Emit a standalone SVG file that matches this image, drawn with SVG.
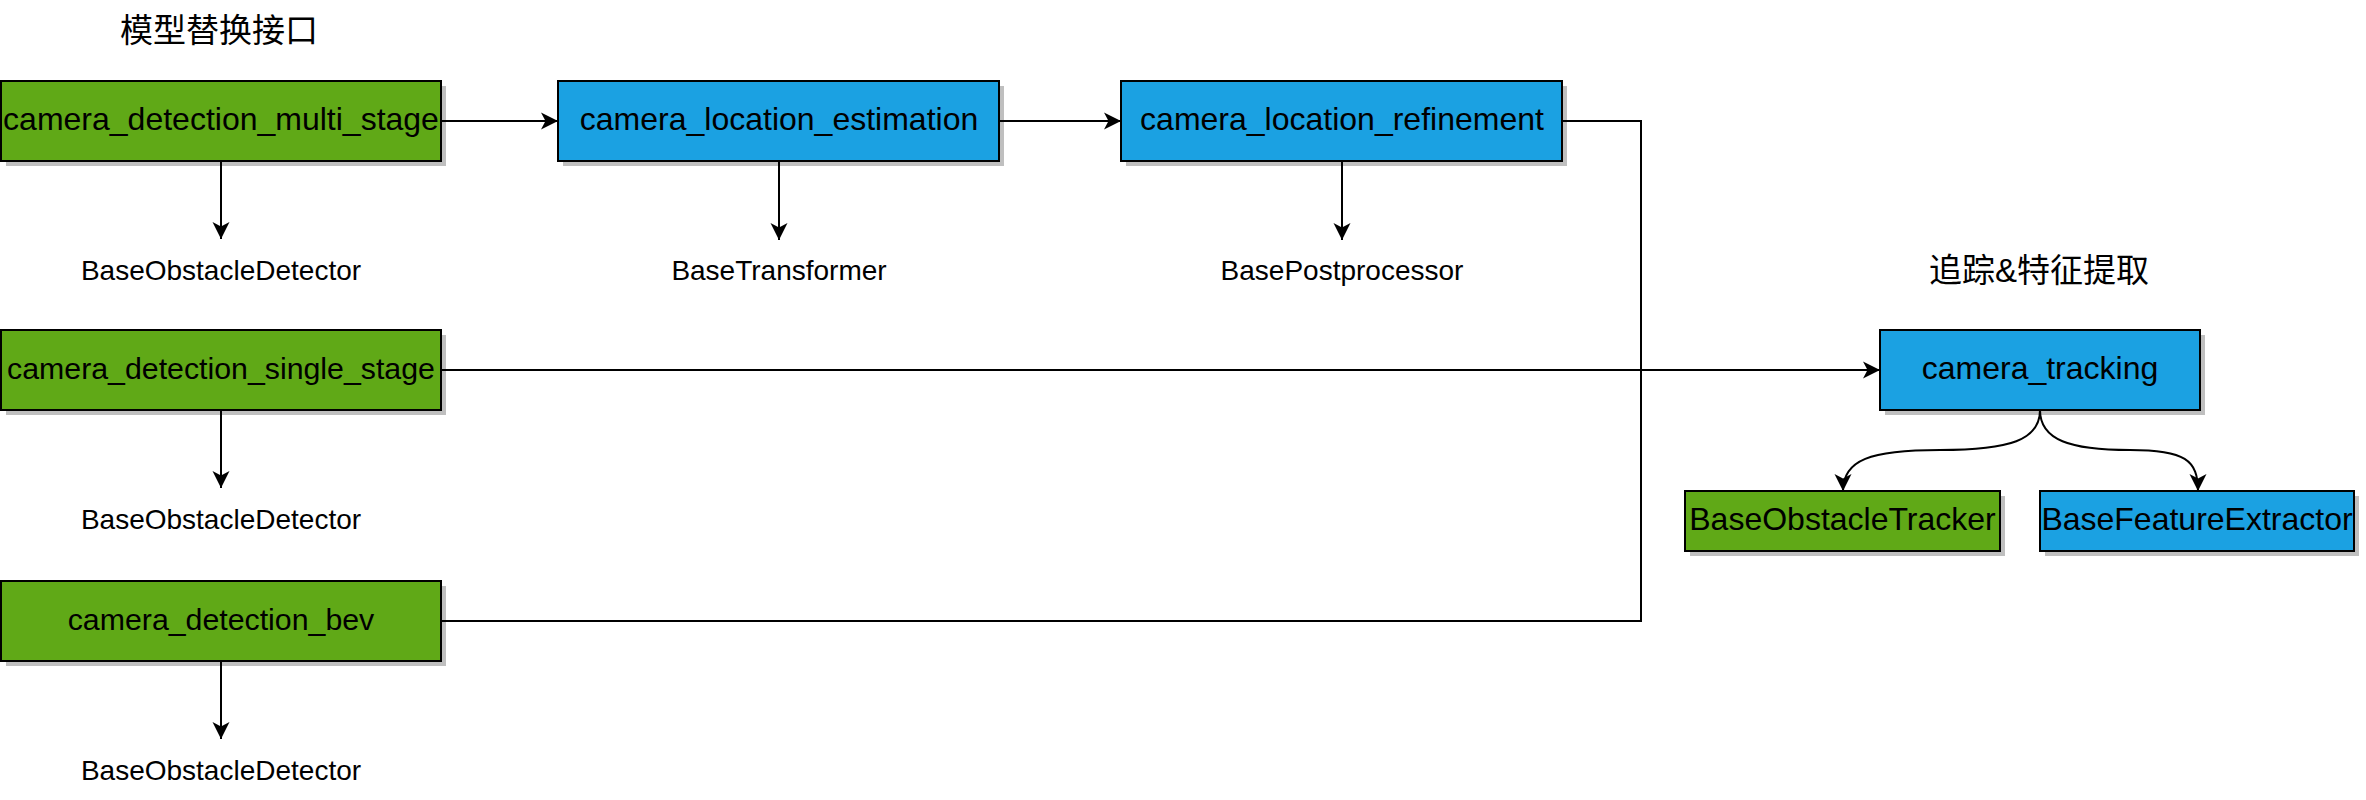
<svg xmlns="http://www.w3.org/2000/svg" width="2366" height="800" viewBox="0 0 2366 800">
<defs>
<style>
.box{stroke:#000;stroke-width:2}
.g{fill:#60a917}
.b{fill:#1ba1e2}
.sh{fill:#000;fill-opacity:.25}
.t{font-family:"Liberation Sans",Arial,Helvetica,sans-serif;fill:#000;text-anchor:middle}
.bt{font-size:32px}
.bt2{font-size:30.3px}
.lb{font-size:28px}
.cj{font-family:"Liberation Sans","Noto Sans CJK SC",sans-serif;font-size:33px;fill:#000;text-anchor:middle}
.ln{fill:none;stroke:#000;stroke-width:2}
</style>
<marker id="arr" markerUnits="userSpaceOnUse" markerWidth="20" markerHeight="20" viewBox="0 0 20 20" refX="17" refY="9" orient="auto">
<path d="M0,0.5 L17,9 L0,17.5 L4.5,9 Z" fill="#000"/>
</marker>
</defs>
<rect width="2366" height="800" fill="#fff"/>

<g id="title1"><text class="cj" x="219" y="42">模型替换接口</text></g>
<g id="title2"><text class="cj" x="2039" y="282">追踪&amp;特征提取</text></g>

<g id="connectors">
<path class="ln" d="M441,121 L558,121" marker-end="url(#arr)"/>
<path class="ln" d="M999,121 L1121,121" marker-end="url(#arr)"/>
<path class="ln" d="M1562,121 L1641,121 L1641,621 L441,621"/>
<path class="ln" d="M441,370 L1880,370" marker-end="url(#arr)"/>
<path class="ln" d="M221,161 L221,239" marker-end="url(#arr)"/>
<path class="ln" d="M221,410 L221,488" marker-end="url(#arr)"/>
<path class="ln" d="M221,661 L221,739" marker-end="url(#arr)"/>
<path class="ln" d="M779,161 L779,240" marker-end="url(#arr)"/>
<path class="ln" d="M1342,161 L1342,240" marker-end="url(#arr)"/>
<path class="ln" d="M2040,410 C2040,440 2010,450 1940,450 C1870,450 1843,460 1843,491" marker-end="url(#arr)"/>
<path class="ln" d="M2040,410 C2040,440 2070,450 2130,450 C2185,450 2198,460 2198,491" marker-end="url(#arr)"/>
</g>

<g id="multi_stage">
<rect class="sh" x="6" y="86" width="440" height="80"/>
<rect class="box g" x="1" y="81" width="440" height="80"/>
<text class="t bt" x="221" y="130">camera_detection_multi_stage</text>
</g>
<g id="location_estimation">
<rect class="sh" x="563" y="86" width="441" height="80"/>
<rect class="box b" x="558" y="81" width="441" height="80"/>
<text class="t bt" x="779" y="130">camera_location_estimation</text>
</g>
<g id="location_refinement">
<rect class="sh" x="1126" y="86" width="441" height="80"/>
<rect class="box b" x="1121" y="81" width="441" height="80"/>
<text class="t bt" x="1342" y="130">camera_location_refinement</text>
</g>
<g id="single_stage">
<rect class="sh" x="6" y="335" width="440" height="80"/>
<rect class="box g" x="1" y="330" width="440" height="80"/>
<text class="t bt2" x="221" y="379">camera_detection_single_stage</text>
</g>
<g id="bev">
<rect class="sh" x="6" y="586" width="440" height="80"/>
<rect class="box g" x="1" y="581" width="440" height="80"/>
<text class="t bt2" x="221" y="630">camera_detection_bev</text>
</g>
<g id="tracking">
<rect class="sh" x="1885" y="335" width="320" height="80"/>
<rect class="box b" x="1880" y="330" width="320" height="80"/>
<text class="t bt" x="2040" y="379">camera_tracking</text>
</g>
<g id="obstacle_tracker">
<rect class="sh" x="1690" y="496" width="315" height="60"/>
<rect class="box g" x="1685" y="491" width="315" height="60"/>
<text class="t bt" x="1842.5" y="530">BaseObstacleTracker</text>
</g>
<g id="feature_extractor">
<rect class="sh" x="2045" y="496" width="314" height="60"/>
<rect class="box b" x="2040" y="491" width="314" height="60"/>
<text class="t bt" x="2197" y="530">BaseFeatureExtractor</text>
</g>

<g id="label_det1"><text class="t lb" x="221" y="280">BaseObstacleDetector</text></g>
<g id="label_det2"><text class="t lb" x="221" y="529">BaseObstacleDetector</text></g>
<g id="label_det3"><text class="t lb" x="221" y="780">BaseObstacleDetector</text></g>
<g id="label_trans"><text class="t lb" x="779" y="280">BaseTransformer</text></g>
<g id="label_post"><text class="t lb" x="1342" y="280">BasePostprocessor</text></g>
</svg>
